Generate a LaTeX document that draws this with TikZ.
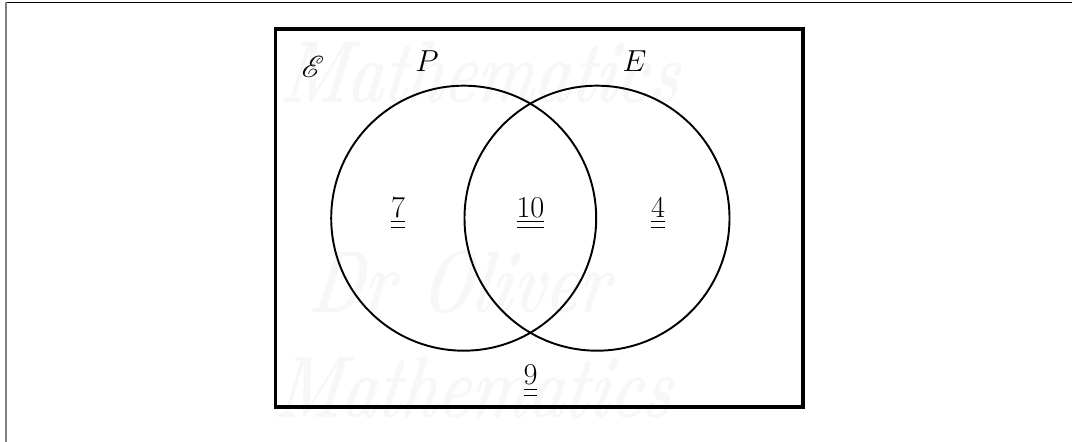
\documentclass[tikz,border=0pt]{standalone}
\usepackage{amsmath,amssymb}
\usepackage{mathrsfs}
\usepackage{fontspec}
\usepackage{tikz}
\usetikzlibrary{positioning}

\begin{document}
\begin{tikzpicture}[every node/.style={font=\fontsize{17.28}{21}\selectfont},
    wmark/.style={text=black!3, font=\fontsize{50}{50}\selectfont\bfseries\itshape,
                  anchor=base, xscale=0.7, xslant=0.2, transform shape},
    setcircle/.style={circle, draw, line width=1.1pt, inner sep=0pt, outer sep=0pt,
                  minimum size=5.3cm}]
  \useasboundingbox (0,0) rectangle (21.44,8.84);

  % page edge
  \draw[line width=0.026cm] (0.1,8.794) -- (21.44,8.794);
  \draw[line width=0.04cm, black!50] (0.12,0) -- (0.12,8.8);

  % watermark
  \node[wmark] (wm1) at (9.57,6.78) {Mathematics};
  \node[wmark] (wm2) at (9.15,2.58) {Dr Oliver};
  \node[wmark] (wm3) at (9.44,0.48) {Mathematics};

  \node[draw, line width=2.2pt, inner sep=0pt, outer sep=0pt,
        minimum width=10.55cm, minimum height=7.56cm] (univ) at (10.785,4.48) {};

  \node[setcircle] (setP) at (9.274,4.476) {};
  \node[setcircle] (setE) at (11.94,4.476) {};

  \node (univlab) at (6.26,7.494) {$\mathscr{E}$};
  \node[anchor=base] (plab) at (8.54,7.406) {$P$};
  \node[anchor=base] (elab) at (12.69,7.406) {$E$};

  \node[anchor=base] (nP) at (7.96,4.494) {$\underline{\underline{7}}$};
  \node[anchor=base] (nPE) at (10.61,4.494) {$\underline{\underline{10}}$};
  \node[anchor=base] (nE) at (13.16,4.494) {$\underline{\underline{4}}$};
  \node[anchor=base] (nout) at (10.61,1.14) {$\underline{\underline{9}}$};
\end{tikzpicture}
\end{document}
